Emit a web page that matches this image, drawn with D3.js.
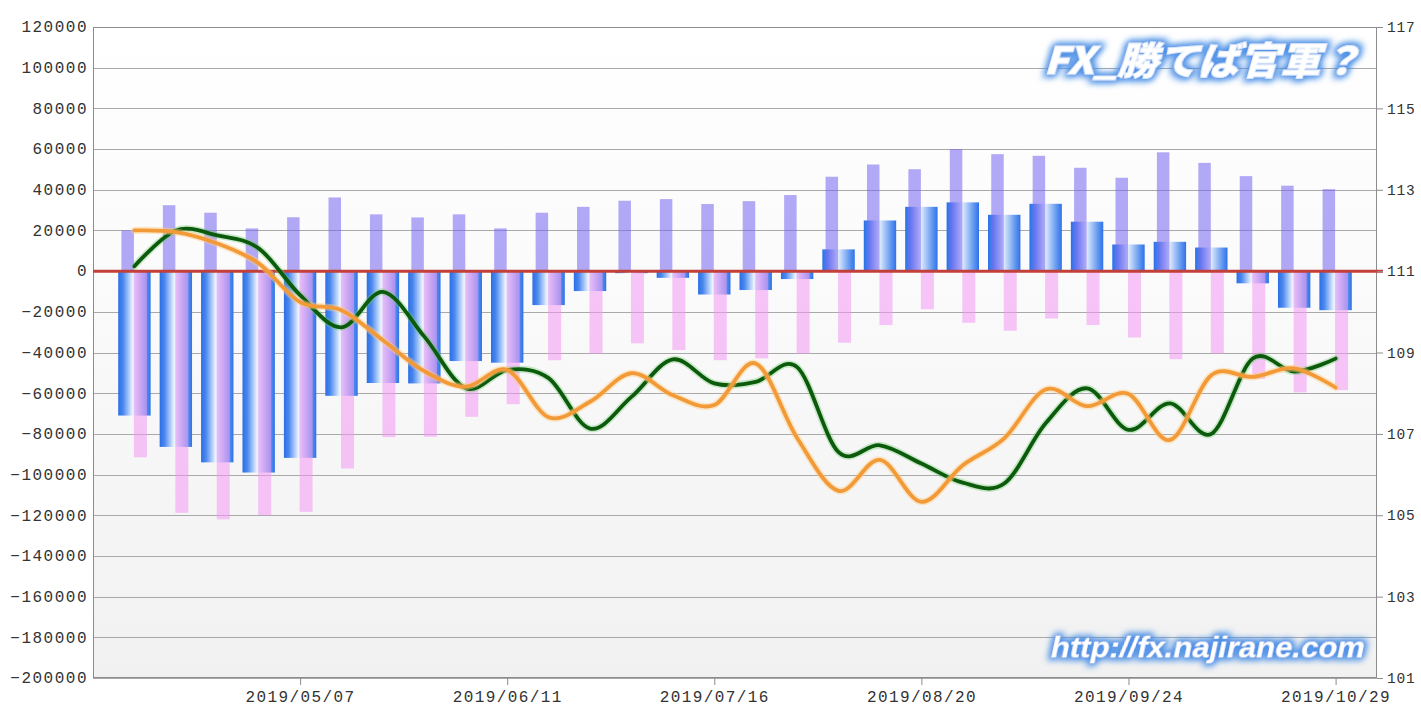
<!DOCTYPE html>
<html><head><meta charset="utf-8">
<script src="https://cdn.jsdelivr.net/npm/d3@7/dist/d3.min.js"></script>
<style>
html,body{margin:0;padding:0;background:#fff;}
svg{display:block;}
</style></head>
<body>
<svg id="chart" width="1421" height="707"></svg>
<script>
const dates = ["2019/04/09","2019/04/16","2019/04/23","2019/04/30","2019/05/07","2019/05/14","2019/05/21","2019/05/28","2019/06/04","2019/06/11","2019/06/18","2019/06/25","2019/07/02","2019/07/09","2019/07/16","2019/07/23","2019/07/30","2019/08/06","2019/08/13","2019/08/20","2019/08/27","2019/09/03","2019/09/10","2019/09/17","2019/09/24","2019/10/01","2019/10/08","2019/10/15","2019/10/22","2019/10/29"];
const longPos = [20000,32400,28700,21000,26500,36200,27900,26400,27900,21000,28700,31600,34600,35400,33000,34400,37400,46400,52400,50100,60000,57500,56700,50800,45900,58400,53200,46700,42000,40300];
const shortPos = [-91500,-118800,-122000,-120000,-118300,-97000,-81600,-81400,-71600,-65400,-43800,-40500,-35500,-38800,-43800,-42900,-40500,-35200,-26500,-18700,-25400,-29300,-23300,-26500,-32600,-43300,-40500,-53000,-59600,-58500];
const netPos = [-71000,-86400,-94000,-99000,-91800,-61300,-55000,-55200,-44200,-45000,-16700,-9800,-1000,-3300,-11500,-9300,-3900,10700,24900,31600,33800,27700,33100,24300,13100,14400,11600,-6000,-18000,-19200];
const rateGreen = [111.12,112.0,111.88,111.56,110.41,109.62,110.49,109.39,108.12,108.57,108.37,107.13,107.91,108.83,108.24,108.28,108.64,106.55,106.72,106.27,105.8,105.78,107.26,108.12,107.1,107.75,107.0,108.85,108.53,108.85];
const rateOrange = [112.0,111.96,111.68,111.19,110.24,110.04,109.3,108.54,108.16,108.57,107.41,107.79,108.49,107.95,107.71,108.73,106.9,105.6,106.36,105.33,106.23,106.89,108.09,107.68,107.98,106.85,108.44,108.4,108.61,108.14];
const leftTicks = [120000,100000,80000,60000,40000,20000,0,-20000,-40000,-60000,-80000,-100000,-120000,-140000,-160000,-180000,-200000];
const rightTicks = [117,115,113,111,109,107,105,103,101];
const dateTicks = ["2019/05/07","2019/06/11","2019/07/16","2019/08/20","2019/09/24","2019/10/29"];

const parse = d3.timeParse("%Y/%m/%d");
const fmt = d3.timeFormat("%Y/%m/%d");
const W = 7*24*3600*1000;
const L = 93, R = 1377, T = 27, B = 678;

const svg = d3.select("#chart");
const defs = svg.append("defs");

const bg = defs.append("linearGradient").attr("id","bg").attr("x1",0).attr("y1",0).attr("x2",0).attr("y2",1);
bg.append("stop").attr("offset","0%").attr("stop-color","#ffffff");
bg.append("stop").attr("offset","35%").attr("stop-color","#fbfbfb");
bg.append("stop").attr("offset","100%").attr("stop-color","#f1f1f1");

const ng = defs.append("linearGradient").attr("id","netg").attr("x1",0).attr("y1",0).attr("x2",1).attr("y2",0);
ng.append("stop").attr("offset","0%").attr("stop-color","#2c6ee6");
ng.append("stop").attr("offset","15%").attr("stop-color","#4a88ee");
ng.append("stop").attr("offset","45%").attr("stop-color","#eef5ff");
ng.append("stop").attr("offset","85%").attr("stop-color","#5c94ef");
ng.append("stop").attr("offset","100%").attr("stop-color","#2f72e8");

const glow = defs.append("filter").attr("id","glow").attr("x","-10%").attr("y","-60%").attr("width","120%").attr("height","220%");
glow.append("feMorphology").attr("in","SourceAlpha").attr("operator","dilate").attr("radius",1.5).attr("result","d");
glow.append("feGaussianBlur").attr("in","d").attr("stdDeviation",3.5).attr("result","b");
glow.append("feFlood").attr("flood-color","#4a8fe6").attr("flood-opacity",0.85);
glow.append("feComposite").attr("in2","b").attr("operator","in").attr("result","g");
const mg = glow.append("feMerge");
mg.append("feMergeNode").attr("in","g");
mg.append("feMergeNode").attr("in","g");
mg.append("feMergeNode").attr("in","SourceGraphic");

const x = d3.scaleTime()
  .domain([new Date(parse(dates[0]).getTime()-W), new Date(parse(dates[dates.length-1]).getTime()+W)])
  .range([L,R]);
const y = d3.scaleLinear().domain([-200000,120000]).range([B,T]);
const y2 = d3.scaleLinear().domain([101,117]).range([B,T]);

// background
svg.append("rect").attr("x",L).attr("y",T).attr("width",R-L).attr("height",B-T).attr("fill","url(#bg)");

// grid
svg.append("g").selectAll("line").data(leftTicks).join("line")
  .attr("x1",L).attr("x2",R).attr("y1",d=>Math.round(y(d))+0.5).attr("y2",d=>Math.round(y(d))+0.5)
  .attr("stroke","#a9a9a9").attr("stroke-width",1);

// bars
const xs = dates.map(d=>x(parse(d)));
const gb = svg.append("g");
gb.selectAll("rect.net").data(netPos).join("rect").attr("class","net")
  .attr("x",(d,i)=>xs[i]-16.2).attr("width",32.4)
  .attr("y",d=>Math.min(y(d),y(0))).attr("height",d=>Math.abs(y(d)-y(0)))
  .attr("fill","url(#netg)");
gb.selectAll("rect.long").data(longPos).join("rect").attr("class","long")
  .attr("x",(d,i)=>xs[i]-13).attr("width",12.5)
  .attr("y",d=>y(d)).attr("height",d=>y(0)-y(d))
  .attr("fill","rgb(117,101,240)").attr("fill-opacity",0.55);
gb.selectAll("rect.short").data(shortPos).join("rect").attr("class","short")
  .attr("x",(d,i)=>xs[i]-0.5).attr("width",13)
  .attr("y",y(0)).attr("height",d=>y(d)-y(0))
  .attr("fill","rgb(242,151,242)").attr("fill-opacity",0.55);

// border
svg.append("rect").attr("x",L+0.5).attr("y",T+0.5).attr("width",R-L-1).attr("height",B-T-1)
  .attr("fill","none").attr("stroke","#8c8c8c");

// zero line
svg.append("line").attr("x1",L).attr("x2",R+6).attr("y1",y(0)).attr("y2",y(0))
  .attr("stroke","#c23f3a").attr("stroke-width",3);

// lines
const line = d3.line().x((d,i)=>xs[i]).y(d=>y2(d)).curve(d3.curveCardinal.tension(0));
function drawLine(data, halo, col){
  svg.append("path").attr("d",line(data)).attr("fill","none").attr("stroke",halo).attr("stroke-width",7).attr("stroke-linecap","round").attr("stroke-linejoin","round");
  svg.append("path").attr("d",line(data)).attr("fill","none").attr("stroke",col).attr("stroke-width",3.8).attr("stroke-linecap","round").attr("stroke-linejoin","round");
}
drawLine(rateGreen,"rgba(110,200,110,0.35)","#0c5a0c");
drawLine(rateOrange,"rgba(255,205,130,0.45)","#f39a38");

// axes
const axL = svg.append("g").attr("transform",`translate(${L},0)`)
  .call(d3.axisLeft(y).tickValues(leftTicks).tickSize(0).tickPadding(5).tickFormat(d3.format("d")));
axL.select(".domain").remove();
axL.selectAll("text").attr("font-family","Liberation Mono, monospace").attr("font-size",16).attr("letter-spacing","1.5px").attr("fill","#333").attr("dy","0.3em");

const axR = svg.append("g").attr("transform",`translate(${R},0)`)
  .call(d3.axisRight(y2).tickValues(rightTicks).tickSize(6).tickPadding(4).tickFormat(d3.format("d")));
axR.select(".domain").remove();
axR.selectAll("line").attr("stroke","#8c8c8c");
axR.selectAll("text").attr("font-family","Liberation Mono, monospace").attr("font-size",14.5).attr("letter-spacing","0.8px").attr("fill","#333");

const axB = svg.append("g").attr("transform",`translate(0,${B})`)
  .call(d3.axisBottom(x).tickValues(dateTicks.map(parse)).tickSize(7).tickPadding(6).tickFormat(fmt));
axB.select(".domain").remove();
axB.selectAll("line").attr("stroke","#8c8c8c");
axB.selectAll("text").attr("font-family","Liberation Mono, monospace").attr("font-size",16).attr("letter-spacing","1.4px").attr("fill","#333");

// watermarks
svg.append("text").attr("x",1046).attr("y",74)
  .attr("transform","skewX(-16) translate(19,0)")
  .attr("font-family","Noto Sans CJK JP").attr("font-weight","900").attr("font-size",37)
  .attr("textLength",318).attr("lengthAdjust","spacingAndGlyphs")
  .attr("fill","#ffffff").attr("stroke","#e4effc").attr("stroke-width",0.8)
  .attr("filter","url(#glow)").text("FX_勝てば官軍？");

svg.append("text").attr("x",1050).attr("y",657)
  .attr("transform","skewX(-12) translate(139,0)")
  .attr("font-family","Liberation Sans, Arial").attr("font-weight","bold").attr("font-size",28)
  .attr("textLength",314).attr("lengthAdjust","spacingAndGlyphs")
  .attr("fill","#ffffff").attr("filter","url(#glow)").text("http://fx.najirane.com");
</script>
</body></html>
